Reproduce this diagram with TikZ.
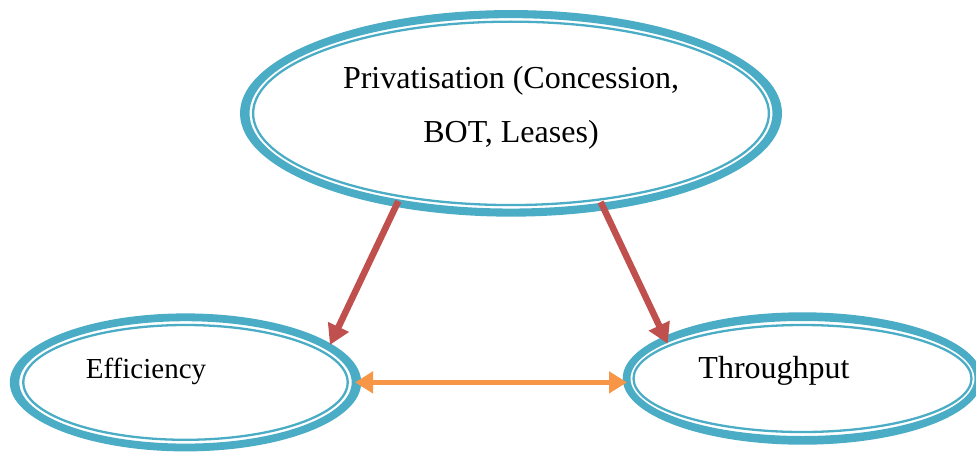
\documentclass[tikz,border=0pt]{standalone}
\usepackage{fontspec}
\setmainfont{Liberation Serif}
\usetikzlibrary{shapes.geometric,arrows.meta}
\definecolor{ringblue}{HTML}{4BACC6}
\definecolor{arrred}{HTML}{C0504D}
\definecolor{arrorange}{HTML}{F79646}
\begin{document}
\begin{tikzpicture}[x=1pt,y=-1pt,
  ringnode/.style={ellipse, draw=none, inner sep=0pt, outer sep=0pt},
  thickring/.style={fill=ringblue, even odd rule},
  thinring/.style={draw=ringblue, line width=2.3pt},
  txt/.style={anchor=base, inner sep=0pt, text=black},
  redarrow/.style={draw=arrred, line width=6.5pt, -{Triangle[length=20pt,width=22pt]}},
  orangearrow/.style={draw=arrorange, line width=5.5pt, {Triangle[length=18pt,width=21pt]}-{Triangle[length=18pt,width=21pt]}}
]
\useasboundingbox (0,0) rectangle (976,452);
% ellipse nodes (outer edge of the thick ring)
\node[ringnode, minimum width=542pt, minimum height=206.6pt] (top) at (511,113.35) {};
\node[ringnode, minimum width=351.4pt, minimum height=138pt] (eff) at (185.5,382.4) {};
\node[ringnode, minimum width=359.6pt, minimum height=132.4pt] (thr) at (802.5,378.5) {};
% thick outer rings
\fill[thickring] (top.center) ellipse [x radius=271pt, y radius=103.3pt]
                 (top.center) ellipse [x radius=261.5pt, y radius=95.2pt];
\fill[thickring] (eff.center) ellipse [x radius=175.7pt, y radius=69pt]
                 (eff.center) ellipse [x radius=166.2pt, y radius=61.2pt];
\fill[thickring] (thr.center) ellipse [x radius=179.8pt, y radius=66.2pt]
                 (thr.center) ellipse [x radius=172pt, y radius=57.5pt];
% thin inner rings
\draw[thinring] (top.center) ellipse [x radius=257.9pt, y radius=91.7pt];
\draw[thinring] (eff.center) ellipse [x radius=162.2pt, y radius=57.4pt];
\draw[thinring] (thr.center) ellipse [x radius=169pt, y radius=53.5pt];
% texts
\node[txt, font=\fontsize{32}{38}\selectfont] (toptext1) at (511,88) {Privatisation (Concession,};
\node[txt, font=\fontsize{32}{38}\selectfont] (toptext2) at (511,142) {BOT, Leases)};
\node[txt, font=\fontsize{29}{34}\selectfont] (efftext) at (146,378) {Efficiency};
\node[txt, font=\fontsize{32}{38}\selectfont] (thrtext) at (774,378) {Throughput};
% connectors
\draw[redarrow, shorten <=-6.3pt, shorten >=-1.6pt] (top.219.96) -- (eff.15.5);
\draw[redarrow, shorten <=-9.2pt, shorten >=-8.3pt] (top.314.33) -- (thr.163.17);
\draw[orangearrow, shorten <=-6.2pt, shorten >=-4.3pt] (eff.east) -- (eff.east -| thr.west);
\end{tikzpicture}
\end{document}
